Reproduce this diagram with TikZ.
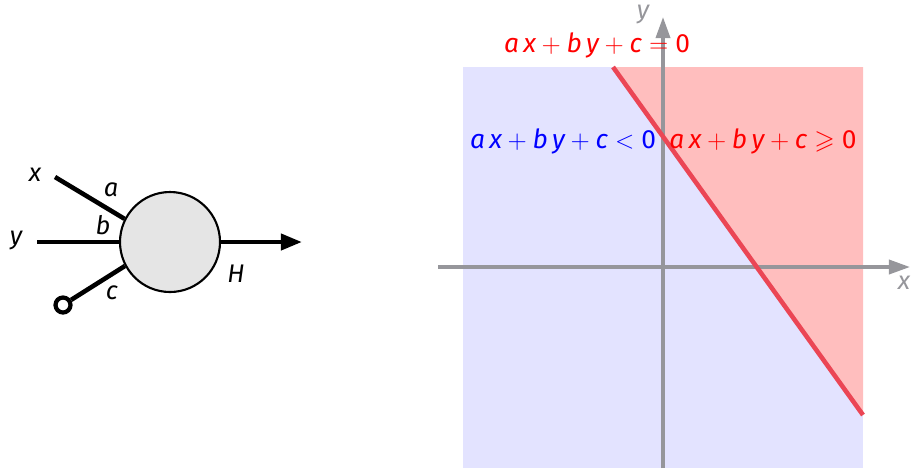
\documentclass[tikz,border=0pt]{standalone}
\usepackage{fontspec}
\usepackage{amssymb}
\setmainfont{Fira Sans}
\usetikzlibrary{arrows.meta}
\definecolor{bluefill}{RGB}{227,227,255}
\definecolor{redfill}{RGB}{255,190,190}
\definecolor{redline}{RGB}{235,70,85}
\definecolor{axisgray}{RGB}{150,150,155}
\newcommand\mv[1]{\textit{#1}}
\tikzset{
  lbl/.style={font=\fontsize{14.5}{16}\selectfont\itshape, inner sep=0pt},
  wire/.style={line width=2.6pt},
  axisline/.style={draw=axisgray, line width=2pt, -{Triangle[length=12pt,width=8pt]}},
  eq/.style={font=\fontsize{15}{17}\selectfont, inner sep=0pt},
}
\begin{document}
\begin{tikzpicture}[x=0.02cm,y=-0.02cm]
\useasboundingbox (0,0) rectangle (912,468);
% ---- left neuron ----
\node[circle, draw=black, line width=1.2pt, fill=black!10, minimum size=100*0.02cm, inner sep=0pt] (n) at (170,242) {};
\coordinate (xs) at (55,177);
\coordinate (ys) at (37,242);
\node[circle, draw=black, line width=2.4pt, minimum size=15*0.02cm, inner sep=0pt] (cs) at (63,305) {};
\coordinate (out) at (302,242);
\draw[wire] (xs) -- (n.153);
\draw[wire] (ys) -- (n.west);
\draw[wire] (cs) -- (n.208);
\draw[wire, -{Triangle[length=12pt,width=9pt]}] (n.east) -- (out);
\node[lbl] (lx) at (35,175) {x};
\node[lbl] (ly) at (16,240) {y};
\node[lbl] (la) at (111,190) {a};
\node[lbl] (lb) at (103,225) {b};
\node[lbl] (lc) at (112,293) {c};
\node[lbl] (lH) at (236,274) {H};
% ---- right half-plane ----
\fill[bluefill] (463,67) rectangle (863,468);
\fill[redfill] (613,67) -- (863,67) -- (863,415) -- cycle;
\coordinate (p1) at (613,67);
\coordinate (p2) at (863,415);
\coordinate (xa0) at (438,267);
\coordinate (xa1) at (910,267);
\coordinate (ya0) at (663,468);
\coordinate (ya1) at (663,17);
\draw[axisline] (xa0) -- (xa1);
\draw[axisline] (ya0) -- (ya1);
\draw[redline, line width=2.6pt] (p1) -- (p2);
\node[lbl, text=axisgray] (ylab) at (643,14) {y};
\node[lbl, text=axisgray] (xlab) at (904,283) {x};
\node[eq, text=red] (eq0) at (597,45) {$\mv{a\,x}+\mv{b\,y}+\mv{c}=\mbox{0}$};
\node[eq, text=blue] (eqlt) at (563,141) {$\mv{a\,x}+\mv{b\,y}+\mv{c}<\mbox{0}$};
\node[eq, text=red] (eqge) at (763,141) {$\mv{a\,x}+\mv{b\,y}+\mv{c}\geqslant\mbox{0}$};
\end{tikzpicture}
\end{document}
